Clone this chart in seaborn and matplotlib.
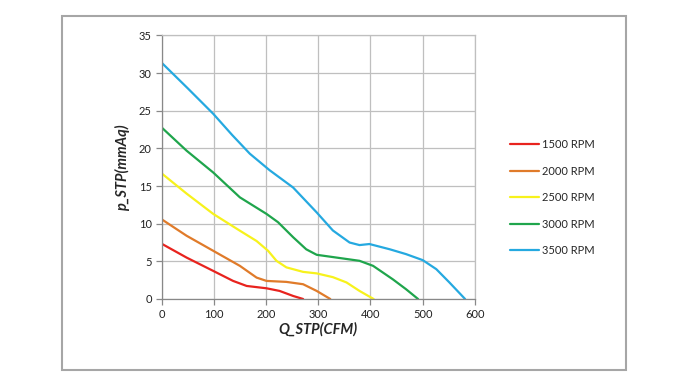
import pandas as pd
import matplotlib.pyplot as plt
import matplotlib.patches as mpatches
import seaborn as sns

# === DATA ===
q_1500 = [0, 48, 99, 137, 163, 201, 226, 252, 271]
p_1500 = [7.35, 5.5, 3.73, 2.4, 1.73, 1.42, 1.07, 0.4, 0]

q_2000 = [0, 48, 99, 150, 182, 201, 239, 271, 297, 323]
p_2000 = [10.6, 8.4, 6.4, 4.4, 2.84, 2.4, 2.27, 1.96, 1.07, 0]

q_2500 = [0, 48, 99, 150, 182, 204, 220, 239, 271, 297, 328, 354, 379, 406]
p_2500 = [16.7, 14.0, 11.3, 9.07, 7.7, 6.4, 5.07, 4.2, 3.6, 3.4, 2.9, 2.2, 1.07, 0]

q_3000 = [0, 48, 99, 150, 201, 223, 252, 277, 297, 335, 379, 405, 443, 468, 491]
p_3000 = [22.8, 19.7, 16.8, 13.5, 11.3, 10.2, 8.2, 6.6, 5.87, 5.5, 5.07, 4.4, 2.6, 1.3, 0]

q_3500 = [0, 50, 99, 135, 169, 207, 252, 297, 328, 360, 379, 398, 437, 468, 500, 526, 551, 581]
p_3500 = [31.4, 28.0, 24.6, 21.8, 19.3, 17.1, 14.8, 11.5, 9.1, 7.5, 7.16, 7.3, 6.6, 5.96, 5.16, 3.96, 2.2, 0]

speeds = ["1500 RPM", "2000 RPM", "2500 RPM", "3000 RPM", "3500 RPM"]
colors = ["#e8231e", "#e07b2a", "#f7f21c", "#1fa54c", "#25a9e0"]

frames = []
for name, q, p in zip(speeds,
                      [q_1500, q_2000, q_2500, q_3000, q_3500],
                      [p_1500, p_2000, p_2500, p_3000, p_3500]):
    frames.append(pd.DataFrame({"Q": q, "P": p, "speed": name}))
df = pd.concat(frames, ignore_index=True)

sns.set_style("white")
plt.rcParams["font.family"] = ["Lato", "DejaVu Sans"]

fig = plt.figure(figsize=(6.8, 3.8), dpi=100)
ax = fig.add_axes([0.2375, 0.2132, 0.461, 0.6934])

# outer chart border
fig.patches.append(mpatches.Rectangle((62 / 680, 1 - 370 / 380), 564 / 680, 354 / 380,
                                      transform=fig.transFigure, fill=False,
                                      edgecolor="#a6a6a6", linewidth=1.5))

sns.lineplot(data=df, x="Q", y="P", hue="speed", palette=colors, sort=False,
             linewidth=1.6, ax=ax, legend=True)

ax.set_xlim(0, 600)
ax.set_ylim(0, 35)
ax.set_xticks(range(0, 601, 100))
ax.set_yticks(range(0, 36, 5))
ax.grid(True, color="#bfbfbf", linewidth=0.9)
for s in ax.spines.values():
    s.set_color("#bfbfbf")
    s.set_linewidth(0.9)
ax.spines["left"].set_color("#888888")
ax.spines["bottom"].set_color("#888888")
ax.tick_params(axis="both", labelsize=8, colors="#222222", length=4, width=0.9,
               direction="out", pad=3)
ax.tick_params(axis="both", color="#888888")
ax.tick_params(left=True, bottom=True)

ax.set_xlabel("Q_STP(CFM)", fontsize=10.5, fontweight="bold", fontstyle="italic", labelpad=2)
ax.set_ylabel("p_STP(mmAq)", fontsize=10.5, fontweight="bold", fontstyle="italic", labelpad=6)

handles, labels = ax.get_legend_handles_labels()
ax.legend(handles, labels, loc="upper left", bbox_to_anchor=(500 / 680, 1 - 129 / 380),
          bbox_transform=fig.transFigure, frameon=False, fontsize=8,
          handlelength=2.6, handletextpad=0.3, labelspacing=1.4)

plt.savefig("out.png", dpi=100)
